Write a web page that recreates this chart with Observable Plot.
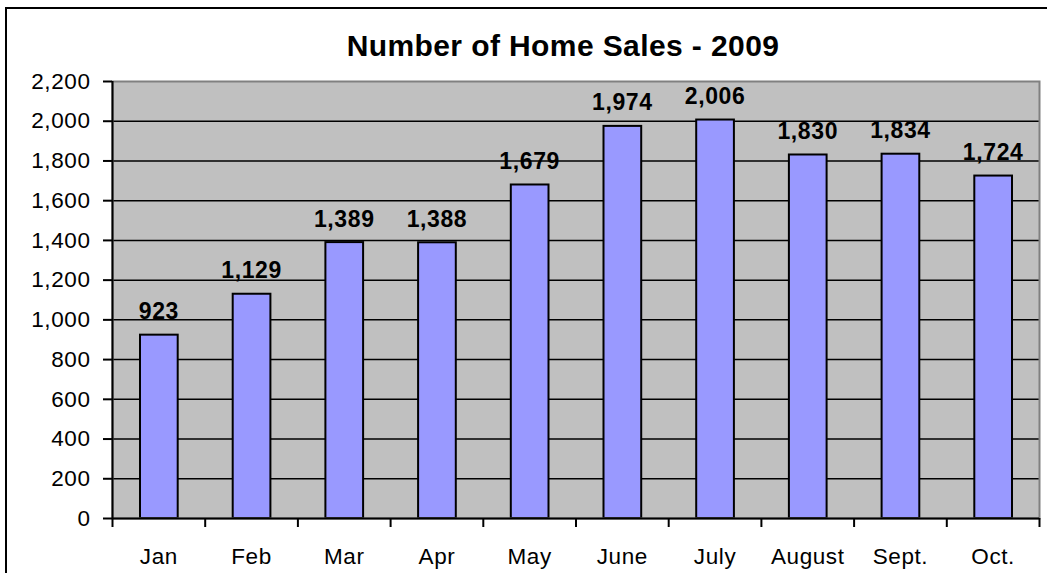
<!DOCTYPE html>
<html>
<head>
<meta charset="utf-8">
<script src="https://cdn.jsdelivr.net/npm/d3@7"></script>
<script src="https://cdn.jsdelivr.net/npm/@observablehq/plot@0.6"></script>
<style>
  html, body { margin: 0; padding: 0; background: #fff; overflow: hidden; }
  #wrap { position: relative; width: 1047px; height: 573px; }
  #border { position: absolute; left: 5px; top: 7px; width: 1100px; height: 600px;
            border-left: 2px solid #000; border-top: 2px solid #000; box-sizing: border-box; }
  #title { position: absolute; left: 0; width: 1126px; top: 31px; text-align: center;
           font: bold 30px "Liberation Sans", Arial, sans-serif; letter-spacing: 0.4px; line-height: 1; color: #000; }
  #chart { position: absolute; left: 0; top: 0; }
</style>
</head>
<body>
<div id="wrap">
  <div id="border"></div>
  <div id="chart"></div>
  <div id="title">Number of Home Sales - 2009</div>
</div>
<script>
const months = ["Jan", "Feb", "Mar", "Apr", "May", "June", "July", "August", "Sept.", "Oct."];
const sales = [923, 1129, 1389, 1388, 1679, 1974, 2006, 1830, 1834, 1724];
const yTicks = [0, 200, 400, 600, 800, 1000, 1200, 1400, 1600, 1800, 2000, 2200];
const gridTicks = [200, 400, 600, 800, 1000, 1200, 1400, 1600, 1800, 2000];

const data = months.map((m, i) => ({i, month: m, sales: sales[i]}));
const fmt = d3.format(",");
const font = '"Liberation Sans", Arial, sans-serif';

const plot = Plot.plot({
  width: 1047,
  height: 573,
  marginTop: 81,
  marginLeft: 112,
  marginRight: 8,
  marginBottom: 55,
  style: {fontFamily: font, fontSize: "22px", color: "#000", background: "transparent", overflow: "visible", letterSpacing: "0.6px"},
  x: {type: "linear", domain: [0, months.length], axis: null, label: null},
  y: {domain: [0, 2200], axis: null, label: null},
  marks: [
    Plot.frame({fill: "#C0C0C0", stroke: null}),
    Plot.gridY(gridTicks, {stroke: "#000", strokeOpacity: 1, strokeWidth: 1.5}),
    Plot.rectY(data, {x1: "i", x2: d => d.i + 1, y1: 0, y2: "sales", insetLeft: 28, insetRight: 27,
      fill: "#9999FF", stroke: "#000", strokeWidth: 2}),
    Plot.frame({stroke: "#808080", strokeWidth: 2}),
    Plot.ruleX([0], {stroke: "#000", strokeWidth: 2}),
    Plot.ruleY([0], {stroke: "#000", strokeWidth: 2}),
    Plot.axisY({ticks: yTicks, tickFormat: fmt, tickSize: 9, tickPadding: 13, strokeWidth: 2, fontSize: 22.5, label: null}),
    Plot.axisX({ticks: d3.range(0, months.length + 1), tickSize: 9, tickFormat: () => "", strokeWidth: 2, label: null}),
    Plot.axisX({ticks: d3.range(months.length).map(i => i + 0.5), tickSize: 0, tickPadding: 30,
      tickFormat: v => months[Math.floor(v)], fontSize: 22.5, label: null}),
    Plot.text(data, {x: d => d.i + 0.5, y: "sales", text: d => fmt(d.sales), lineAnchor: "bottom",
      dy: -16, fontWeight: "bold", fontSize: 23, fill: "#000"})
  ]
});
document.getElementById("chart").appendChild(plot);
</script>
</body>
</html>
